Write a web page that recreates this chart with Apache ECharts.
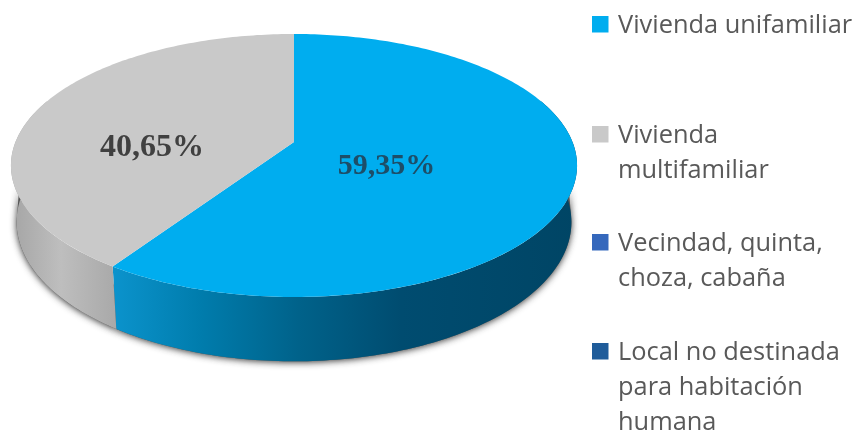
<!DOCTYPE html>
<html>
<head>
<meta charset="utf-8">
<style>html,body{margin:0;padding:0;background:#fff}#c{width:859px;height:432px}</style>
<script src="https://cdn.jsdelivr.net/npm/echarts@6/dist/echarts.min.js"></script>
</head>
<body>
<div id="c"></div>
<script>
const categories = ['Vivienda unifamiliar', 'Vivienda\nmultifamiliar', 'Vecindad, quinta,\nchoza, cabaña', 'Local no destinada\npara habitación\nhumana'];
const values = [59.35, 40.65, 0, 0];
const colors = ['#00ADEF', '#C9C9C9', '#3568BC', '#1F5C9A'];

const P = { ax: 294, ay: 142, A: 278.5, B: 127.3, k: 0.1787, wallDy: 55, wallS: 0.98, wallSy: 1.06 };
const wallGrad = [
  [[0, '#0B93CC'], [0.19, '#007CAC'], [0.4, '#00628A'], [0.62, '#004C70'], [1, '#004565']],
  [[0, '#A6A6A6'], [0.45, '#BEBEBE'], [1, '#A8A8A8']]
];
const wallRange = [[114, 577], [14, 118]];

function proj(deg, s, dy, sy) {
  const t = deg * Math.PI / 180, u = Math.sin(t), v = -Math.cos(t), w = 1 - P.k * v;
  return [P.ax + s * P.A * u / w, P.ay + dy + sy * P.B * v / w];
}
function arc(a, b, s, dy, sy) {
  const pts = [], n = Math.max(2, Math.ceil(Math.abs(b - a)));
  for (let i = 0; i <= n; i++) pts.push(proj(a + (b - a) * i / n, s, dy, sy));
  return pts;
}
const total = values.reduce((a, b) => a + b, 0);
const fmt = v => v.toFixed(2).replace('.', ',') + '%';
const labelStyle = [
  { x: 386.5, y: 166, fontSize: 30, fill: '#1D4E68' },
  { x: 152, y: 148, fontSize: 32, fill: '#404040' }
];

const series = categories.map((name, idx) => {
  const start = values.slice(0, idx).reduce((a, b) => a + b, 0) / total * 360;
  const end = start + values[idx] / total * 360;
  return {
    name, type: 'custom', coordinateSystem: 'none', silent: true,
    data: [[values[idx]]],
    itemStyle: { color: colors[idx] },
    renderItem() {
      if (!values[idx]) return { type: 'group', children: [] };
      const a = Math.max(start, 70), b = Math.min(end, 290);
      const wall = arc(a, b, 1, 0, 1).concat(arc(a, b, P.wallS, P.wallDy, P.wallSy).reverse());
      const sa = Math.max(start, 100), sb = Math.min(end, 260);
      const shadow = arc(sa, sb, 0.97, 20, 1).concat(arc(sa, sb, P.wallS, P.wallDy, P.wallSy).reverse());
      const grad = {
        type: 'linear', x: wallRange[idx][0], y: 0, x2: wallRange[idx][1], y2: 0, global: true,
        colorStops: wallGrad[idx].map(s => ({ offset: s[0], color: s[1] }))
      };
      const top = [[P.ax, P.ay]].concat(arc(start, end, 1, 0, 1));
      return {
        type: 'group',
        children: [
          { type: 'polygon', z2: 0, shape: { points: shadow },
            style: { fill: '#555', shadowBlur: 7, shadowColor: 'rgba(30,30,30,0.9)', shadowOffsetY: 1 } },
          { type: 'polygon', z2: 1, shape: { points: wall }, style: { fill: grad } },
          { type: 'polygon', z2: 2, shape: { points: top }, style: { fill: colors[idx] } },
          { type: 'text', z2: 3, x: labelStyle[idx].x, y: labelStyle[idx].y,
            style: { text: fmt(values[idx]), fill: labelStyle[idx].fill, align: 'center', verticalAlign: 'middle',
              font: 'bold ' + labelStyle[idx].fontSize + 'px "Liberation Serif"' } }
        ]
      };
    }
  };
});

const legendTops = [16, 126, 234, 343];
const graphicItems = [];
categories.forEach((name, i) => {
  graphicItems.push({ type: 'rect', left: 592, top: legendTops[i], shape: { width: 16.5, height: 16.5 }, style: { fill: colors[i] } });
  graphicItems.push({ type: 'text', x: 618, y: legendTops[i] - 8,
    style: { text: name, fill: '#595959', font: '25.4px "Open Sans"', lineHeight: 35, align: 'left', verticalAlign: 'top' } });
});

const chart = echarts.init(document.getElementById('c'), null, { renderer: 'canvas' });
chart.setOption({
  animation: false,
  backgroundColor: '#fff',
  series,
  graphic: { elements: graphicItems }
});
</script>
</body>
</html>
